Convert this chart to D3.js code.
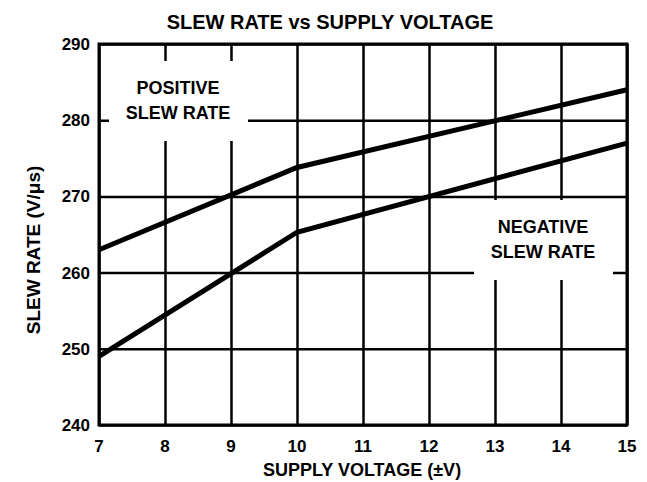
<!DOCTYPE html>
<html>
<head>
<meta charset="utf-8">
<script src="https://cdn.jsdelivr.net/npm/d3@7"></script>
<style>
  body { margin: 0; background: #fff; }
  text { font-family: "Liberation Sans", Arial, sans-serif; font-weight: bold; fill: #000; }
</style>
</head>
<body>
<svg width="647" height="482"></svg>
<script>
// **** data ****
var xTicks = [7, 8, 9, 10, 11, 12, 13, 14, 15];
var yTicks = [240, 250, 260, 270, 280, 290];

var posVolts = [7, 10, 15];
var posSlew  = [263, 273.8, 284];

var negVolts = [7, 10, 15];
var negSlew  = [249, 265.3, 277];

// **** scales ****
var xScale = d3.scaleLinear().domain([7, 15]).range([99, 627]);
var yScale = d3.scaleLinear().domain([240, 290]).range([425, 44]);

var svg = d3.select('svg');

// grid lines
svg.append('g').attr('class', 'grid')
    .attr('transform', 'translate(0,425)')
    .call(d3.axisBottom(xScale).tickValues(xTicks).tickSize(-381).tickFormat(''))
    .call(function(g) { g.select('.domain').remove(); })
    .selectAll('line').attr('stroke', '#000').attr('stroke-width', 2.5);

svg.append('g').attr('class', 'grid')
    .attr('transform', 'translate(99,0)')
    .call(d3.axisLeft(yScale).tickValues(yTicks).tickSize(-528).tickFormat(''))
    .call(function(g) { g.select('.domain').remove(); })
    .selectAll('line').attr('stroke', '#000').attr('stroke-width', 2.5);

// white boxes behind the labels (the grid is broken there)
svg.append('rect')
    .attr('x', 109).attr('y', 61).attr('width', 139).attr('height', 80)
    .attr('fill', '#fff');
svg.append('rect')
    .attr('x', 474).attr('y', 200).attr('width', 139).attr('height', 80)
    .attr('fill', '#fff');

// frame
svg.append('rect')
    .attr('x', 99).attr('y', 44).attr('width', 528).attr('height', 381)
    .attr('fill', 'none').attr('stroke', '#000').attr('stroke-width', 3);

// curves
var line = d3.line()
    .x(function(d) { return xScale(d[0]); })
    .y(function(d) { return yScale(d[1]); });

svg.append('path')
    .datum(d3.zip(posVolts, posSlew))
    .attr('d', line)
    .attr('fill', 'none').attr('stroke', '#000').attr('stroke-width', 5);

svg.append('path')
    .datum(d3.zip(negVolts, negSlew))
    .attr('d', line)
    .attr('fill', 'none').attr('stroke', '#000').attr('stroke-width', 5);

// tick labels
svg.append('g').selectAll('text')
    .data(xTicks)
    .enter().append('text')
    .attr('x', function(d) { return xScale(d); })
    .attr('y', 452)
    .attr('text-anchor', 'middle')
    .attr('font-size', 17)
    .text(function(d) { return d; });

svg.append('g').selectAll('text')
    .data(yTicks)
    .enter().append('text')
    .attr('x', 90)
    .attr('y', function(d) { return yScale(d) + 6; })
    .attr('text-anchor', 'end')
    .attr('font-size', 17)
    .text(function(d) { return d; });

// labels
svg.append('text')
    .attr('x', 330).attr('y', 29)
    .attr('text-anchor', 'middle').attr('font-size', 20)
    .text('SLEW RATE vs SUPPLY VOLTAGE');

svg.append('text')
    .attr('x', 362).attr('y', 476)
    .attr('text-anchor', 'middle').attr('font-size', 18)
    .text('SUPPLY VOLTAGE (\u00b1V)');

svg.append('text')
    .attr('transform', 'translate(40,250) rotate(-90)')
    .attr('text-anchor', 'middle').attr('font-size', 19)
    .text('SLEW RATE (V/\u03bcs)');

svg.append('text')
    .attr('x', 178).attr('y', 94)
    .attr('text-anchor', 'middle').attr('font-size', 18)
    .text('POSITIVE');
svg.append('text')
    .attr('x', 178).attr('y', 119)
    .attr('text-anchor', 'middle').attr('font-size', 18)
    .text('SLEW RATE');

svg.append('text')
    .attr('x', 543).attr('y', 233)
    .attr('text-anchor', 'middle').attr('font-size', 18)
    .text('NEGATIVE');
svg.append('text')
    .attr('x', 543).attr('y', 258)
    .attr('text-anchor', 'middle').attr('font-size', 18)
    .text('SLEW RATE');
</script>
</body>
</html>
